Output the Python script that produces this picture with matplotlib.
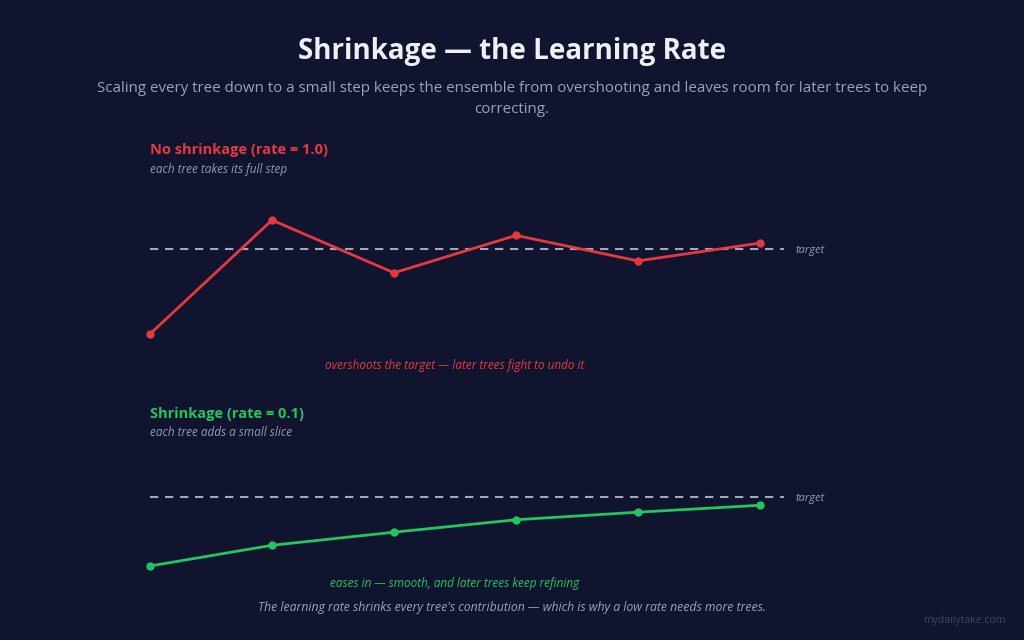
import matplotlib
matplotlib.use("Agg")
import matplotlib.pyplot as plt

W, H = 1024, 640
BG = "#10142f"
RED = "#e5393f"
GREEN = "#22c55e"
DASH = "#a3a8b8"
SUB = "#9aa3b8"
NOTE = "#8f9bb8"

trees = [0, 1, 2, 3, 4, 5]
target = 1.0
no_shrink = [0.0, 1.34, 0.72, 1.16, 0.86, 1.07]
shrink = [0.0, 0.30, 0.49, 0.67, 0.78, 0.88]

plt.rcParams["font.family"] = ["Open Sans", "DejaVu Sans"]


def fx(x):
    return x / W


def fy(y):
    return 1 - y / H


def panel(fig, top, bottom, zero_px, unit_px, values, color):
    ax = fig.add_axes([fx(150), fy(bottom), fx(760 - 150), (bottom - top) / H])
    ax.set_facecolor("none")
    ax.set_xlim(0, 5)
    ax.set_ylim(-(bottom - zero_px) / unit_px, (zero_px - top) / unit_px)
    ax.axis("off")
    ax.plot([0, 5.2], [target, target], color=DASH, lw=1.5,
            dashes=(4, 3.2), clip_on=False)
    ax.text(5.29, target - 1.5 / unit_px, "target", color=NOTE, fontsize=8,
            style="italic", va="center", ha="left")
    ax.plot(trees, values, color=color, lw=2.0, marker="o", ms=5,
            clip_on=False, zorder=3)
    return ax


fig = plt.figure(figsize=(W / 100, H / 100), dpi=100, facecolor=BG)

fig.text(fx(512), fy(52), "Shrinkage — the Learning Rate", color="#eef0f6",
         fontsize=20, fontweight="bold", ha="center", va="center")
fig.text(fx(512), fy(99),
         "Scaling every tree down to a small step keeps the ensemble from overshooting and leaves room for later trees to keep\ncorrecting.",
         color=SUB, fontsize=10.9, ha="center", va="center", linespacing=1.5)

# top panel
fig.text(fx(150), fy(150), "No shrinkage (rate = 1.0)", color=RED,
         fontsize=10.5, fontweight="bold", ha="left", va="center")
fig.text(fx(150), fy(169), "each tree takes its full step", color=NOTE,
         fontsize=8.5, style="italic", ha="left", va="center")
panel(fig, 200, 350, 334, 85, no_shrink, RED)
fig.text(fx(455), fy(366), "overshoots the target — later trees fight to undo it",
         color=RED, fontsize=8.5, style="italic", ha="center", va="center")

# bottom panel
fig.text(fx(150), fy(414), "Shrinkage (rate = 0.1)", color=GREEN,
         fontsize=10.5, fontweight="bold", ha="left", va="center")
fig.text(fx(150), fy(433), "each tree adds a small slice", color=NOTE,
         fontsize=8.5, style="italic", ha="left", va="center")
panel(fig, 480, 580, 566, 69, shrink, GREEN)
fig.text(fx(455), fy(583), "eases in — smooth, and later trees keep refining",
         color=GREEN, fontsize=8.5, style="italic", ha="center", va="center")

fig.text(fx(512), fy(607),
         "The learning rate shrinks every tree's contribution — which is why a low rate needs more trees.",
         color=SUB, fontsize=8.85, style="italic", ha="center", va="center")
fig.text(fx(1005), fy(621), "mydailytake.com", color="#3d4466",
         fontsize=7.5, ha="right", va="center")

fig.savefig("out.png", dpi=100, facecolor=BG)
